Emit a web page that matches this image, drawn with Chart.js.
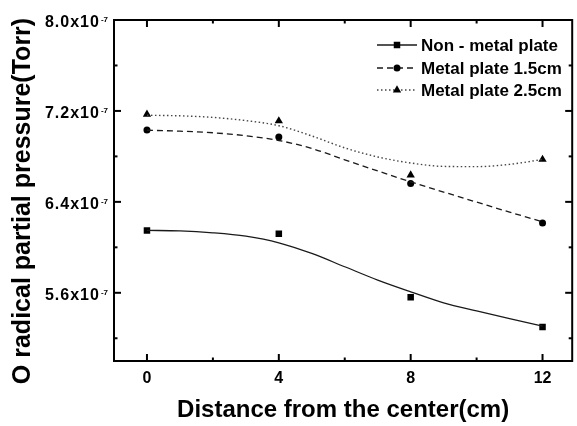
<!DOCTYPE html>
<html>
<head>
<meta charset="utf-8">
<script src="https://cdn.jsdelivr.net/npm/chart.js@4.4.1/dist/chart.umd.min.js"></script>
<style>
  html, body { margin: 0; padding: 0; background: #fff; }
  #wrap { width: 577px; height: 426px; }
</style>
</head>
<body>
<div id="wrap"><canvas id="myChart"></canvas></div>
<script>
// Pressures are in units of 1e-7 Torr
const distances = [0, 4, 8, 12];
const nonMetal = [6.149, 6.119, 5.560, 5.299];
const metal15 = [7.033, 6.971, 6.562, 6.215];
const metal25 = [7.171, 7.112, 6.635, 6.773];

// Smoothed fit curves at each cm
const fitX = [0, 1, 2, 3, 4, 5, 6, 7, 8, 9, 10, 11, 12];
const fitNonMetal = [6.149, 6.145, 6.128, 6.098, 6.040, 5.946, 5.829, 5.712, 5.609, 5.512, 5.440, 5.372, 5.307];
const fitMetal15 = [7.030, 7.022, 7.008, 6.982, 6.940, 6.870, 6.770, 6.672, 6.576, 6.486, 6.398, 6.310, 6.224];
const fitMetal25 = [7.162, 7.157, 7.143, 7.115, 7.070, 6.980, 6.875, 6.795, 6.742, 6.712, 6.710, 6.730, 6.773];

const xTicks = [0, 4, 8, 12];
const xMinorTicks = [2, 6, 10];
const yTicks = [5.6, 6.4, 7.2, 8.0];
const yMinorTicks = [5.2, 6.0, 6.8, 7.6];
const yTickLabels = ['5.6x10', '6.4x10', '7.2x10', '8.0x10'];
const yExponent = '-7';

const seriesNames = ['Non - metal plate', 'Metal plate 1.5cm', 'Metal plate 2.5cm'];

const FONT = '"Liberation Sans", Arial, sans-serif';

const toXY = (xs, ys) => xs.map((x, i) => ({ x: x, y: ys[i] }));

// one style per series: line look + marker look
const styles = [
    { color: '#1a1a1a', dash: [], width: 1.3, point: 'rect', radius: 4.6 },
    { color: '#1a1a1a', dash: [6, 4], width: 1.3, point: 'circle', radius: 3.5 },
    { color: '#444', dash: [1.5, 2.5], width: 1.4, point: 'triangle', radius: 4.8 }
];
const fits = [fitNonMetal, fitMetal15, fitMetal25];
const points = [nonMetal, metal15, metal25];

const datasets = [];
styles.forEach((s, i) => {
    datasets.push({
        label: seriesNames[i],
        data: toXY(fitX, fits[i]),
        showLine: true,
        borderColor: s.color,
        borderWidth: s.width,
        borderDash: s.dash,
        pointRadius: 0,
        cubicInterpolationMode: 'monotone',
        fill: false
    });
    datasets.push({
        label: seriesNames[i] + ' data',
        data: toXY(distances, points[i]),
        showLine: false,
        pointStyle: s.point,
        pointRadius: s.radius,
        pointBackgroundColor: '#000',
        pointBorderColor: '#000',
        pointBorderWidth: 0
    });
});

function markerAt(ctx, style, radius, x, y) {
    if (Chart.helpers && Chart.helpers.drawPoint) {
        ctx.fillStyle = '#000';
        ctx.strokeStyle = '#000';
        ctx.lineWidth = 0;
        Chart.helpers.drawPoint(ctx, { pointStyle: style, radius: radius, rotation: 0, borderWidth: 0 }, x, y);
    }
}

// frame with inward ticks, y labels with exponent, y title and legend
const decorations = {
    id: 'decorations',
    afterDraw(chart) {
        const ctx = chart.ctx;
        const a = chart.chartArea;
        const xs = chart.scales.x, ys = chart.scales.y;
        ctx.save();

        ctx.strokeStyle = '#000';
        ctx.lineWidth = 2;
        ctx.strokeRect(a.left, a.top, a.right - a.left, a.bottom - a.top);

        const tick = (x1, y1, x2, y2) => {
            ctx.beginPath(); ctx.moveTo(x1, y1); ctx.lineTo(x2, y2); ctx.stroke();
        };
        xTicks.forEach(v => {
            const px = xs.getPixelForValue(v);
            tick(px, a.bottom, px, a.bottom - 7);
            tick(px, a.top, px, a.top + 7);
        });
        xMinorTicks.forEach(v => {
            const px = xs.getPixelForValue(v);
            tick(px, a.bottom, px, a.bottom - 3.5);
            tick(px, a.top, px, a.top + 3.5);
        });
        yTicks.forEach(v => {
            const py = ys.getPixelForValue(v);
            tick(a.left, py, a.left + 7, py);
            tick(a.right, py, a.right - 7, py);
        });
        yMinorTicks.forEach(v => {
            const py = ys.getPixelForValue(v);
            tick(a.left, py, a.left + 3.5, py);
            tick(a.right, py, a.right - 3.5, py);
        });

        // y tick labels with superscript exponent
        ctx.fillStyle = '#000';
        yTicks.forEach((v, i) => {
            const py = ys.getPixelForValue(v);
            ctx.font = 'bold 8px ' + FONT;
            ctx.letterSpacing = '0px';
            const supW = ctx.measureText(yExponent).width;
            const right = a.left - 6;
            ctx.textAlign = 'left';
            ctx.textBaseline = 'alphabetic';
            ctx.fillText(yExponent, right - supW, py + 2);
            ctx.font = 'bold 16px ' + FONT;
            ctx.letterSpacing = '1px';
            ctx.textAlign = 'right';
            ctx.fillText(yTickLabels[i], right - supW - 1, py + 7);
        });
        ctx.letterSpacing = '0px';

        // y title
        ctx.save();
        ctx.translate(23, 201);
        ctx.rotate(-Math.PI / 2);
        ctx.font = 'bold 25px ' + FONT;
        ctx.textAlign = 'center';
        ctx.textBaseline = 'middle';
        ctx.fillText('O radical partial pressure(Torr)', 0, 0);
        ctx.restore();

        // legend
        const rows = [45, 68, 90];
        styles.forEach((s, i) => {
            const y = rows[i];
            ctx.strokeStyle = s.color;
            ctx.lineWidth = s.width;
            ctx.setLineDash(s.dash);
            tick(377, y, 417, y);
            ctx.setLineDash([]);
            markerAt(ctx, s.point, s.radius, 397, y);
            ctx.fillStyle = '#000';
            ctx.font = 'bold 17px ' + FONT;
            ctx.textAlign = 'left';
            ctx.textBaseline = 'middle';
            ctx.fillText(chart.data.datasets[i * 2].label, 421, y + 1);
        });

        ctx.restore();
    }
};

const ctx = document.getElementById('myChart').getContext('2d');
const myChart = new Chart(ctx, {
    type: 'scatter',
    data: { datasets: datasets },
    options: {
        responsive: true,
        maintainAspectRatio: false,
        animation: false,
        layout: { padding: { left: 0, top: 20, right: 4, bottom: 0 } },
        scales: {
            x: {
                type: 'linear',
                min: -1,
                max: 12.9,
                afterFit: s => { s.height = 65; },
                afterBuildTicks: s => { s.ticks = xTicks.map(v => ({ value: v })); },
                grid: { display: false, drawTicks: false },
                border: { display: false },
                ticks: {
                    color: '#000',
                    padding: 8,
                    font: { family: FONT, size: 16, weight: 'bold' }
                },
                title: {
                    display: true,
                    text: 'Distance from the center(cm)',
                    color: '#000',
                    padding: { top: 0, bottom: 1 },
                    font: { family: FONT, size: 24, weight: 'bold' }
                }
            },
            y: {
                type: 'linear',
                min: 5.0,
                max: 8.0,
                afterFit: s => { s.width = 114; },
                grid: { display: false, drawTicks: false },
                border: { display: false },
                ticks: { display: false }
            }
        },
        plugins: {
            legend: { display: false },
            tooltip: { enabled: false }
        }
    },
    plugins: [decorations]
});
</script>
</body>
</html>
